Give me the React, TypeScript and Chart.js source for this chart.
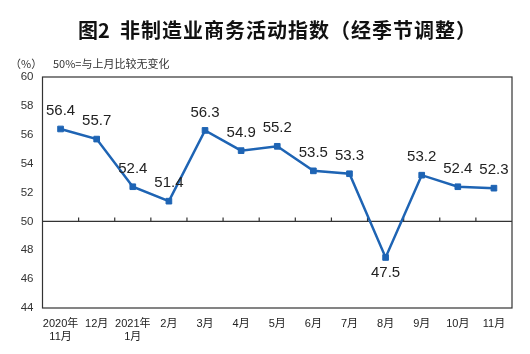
import React, { useEffect, useRef } from "react";
import { Chart, registerables } from "chart.js";

Chart.register(...registerables);

const TITLE_PREFIX = "图2";
const TITLE_MAIN = "非制造业商务活动指数（经季节调整）";
const UNIT_LABEL = "（%）";
const NOTE_LABEL = "50%=与上月比较无变化";
const categories: (string | string[])[] = [
  ["2020年", "11月"], "12月", ["2021年", "1月"], "2月", "3月", "4月", "5月",
  "6月", "7月", "8月", "9月", "10月", "11月",
];
const values = [56.4, 55.7, 52.4, 51.4, 56.3, 54.9, 55.2, 53.5, 53.3, 47.5, 53.2, 52.4, 52.3];
const Y_MIN = 44;
const Y_MAX = 60;
const Y_STEP = 2;
const BASELINE = 50;

const FONT = "Arial, 'Liberation Sans', 'Noto Sans CJK SC', sans-serif";
const CJK = "'Noto Sans CJK SC', 'Liberation Sans', sans-serif";
const BLUE = "#1E64B4";
const FRAME = "#333333";

const decorPlugin = {
  id: "decor",
  beforeDatasetsDraw(chart: any) {
    const { ctx, chartArea: a, scales } = chart;
    const y50 = scales.y.getPixelForValue(BASELINE);
    ctx.save();
    ctx.strokeStyle = FRAME;
    ctx.lineWidth = 1.2;
    ctx.strokeRect(a.left, a.top, a.right - a.left, a.bottom - a.top);
    ctx.beginPath();
    ctx.moveTo(a.left, y50);
    ctx.lineTo(a.right, y50);
    const n = categories.length;
    const w = (a.right - a.left) / n;
    for (let i = 1; i < n; i++) {
      const x = a.left + w * i;
      ctx.moveTo(x, y50);
      ctx.lineTo(x, y50 - 4);
    }
    ctx.stroke();
    ctx.restore();
  },
  afterDatasetsDraw(chart: any) {
    const { ctx } = chart;
    const meta = chart.getDatasetMeta(0);
    ctx.save();
    ctx.font = `15px ${FONT}`;
    ctx.fillStyle = "#222222";
    ctx.textAlign = "center";
    ctx.textBaseline = "middle";
    meta.data.forEach((pt: any, i: number) => {
      const v = values[i];
      const prev = i > 0 ? values[i - 1] : v;
      const next = i < values.length - 1 ? values[i + 1] : v;
      const below = v < prev && v < next && v < BASELINE;
      ctx.fillText(v.toFixed(1), pt.x, below ? pt.y + 15 : pt.y - 18);
    });
    ctx.restore();
  },
  afterDraw(chart: any) {
    const { ctx } = chart;
    ctx.save();
    ctx.fillStyle = "#111111";
    ctx.font = `bold 20px ${CJK}`;
    ctx.textAlign = "left";
    ctx.textBaseline = "middle";
    ctx.fillText(TITLE_PREFIX, 78, 30);
    (ctx as any).letterSpacing = "1px";
    ctx.fillText(TITLE_MAIN, 120, 30);
    (ctx as any).letterSpacing = "0px";
    ctx.font = `11px ${CJK}`;
    ctx.fillStyle = "#333333";
    ctx.fillText(UNIT_LABEL, 10, 64);
    ctx.fillText(NOTE_LABEL, 53, 64);
    ctx.restore();
  },
};

export default function App() {
  const ref = useRef<HTMLCanvasElement>(null);
  useEffect(() => {
    document.body.style.margin = "0";
    const chart = new Chart(ref.current!, {
      type: "line",
      data: {
        labels: categories,
        datasets: [
          {
            data: values,
            borderColor: BLUE,
            backgroundColor: BLUE,
            borderWidth: 2.5,
            pointStyle: "rect",
            pointRadius: 4,
            pointBorderWidth: 1,
            tension: 0,
          },
        ],
      },
      options: {
        responsive: false,
        animation: false,
        layout: { padding: { top: 77, right: 18, left: 0, bottom: 0 } },
        plugins: { legend: { display: false }, tooltip: { enabled: false }, title: { display: false } },
        scales: {
          x: {
            offset: true,
            grid: { display: false, drawTicks: false },
            border: { display: false },
            ticks: {
              color: "#222222",
              font: { family: FONT, size: 11 },
              padding: 9,
              maxRotation: 0,
              autoSkip: false,
            },
            afterFit(s: any) { s.height = 46; },
          },
          y: {
            min: Y_MIN,
            max: Y_MAX,
            grid: { display: false, drawTicks: false },
            border: { display: false },
            ticks: {
              stepSize: Y_STEP,
              color: "#333333",
              font: { family: FONT, size: 11.5 },
              padding: 9,
            },
            afterFit(s: any) { s.width = 42.5; },
          },
        },
      },
      plugins: [decorPlugin],
    });
    return () => chart.destroy();
  }, []);
  return (
    <div style={{ position: "fixed", left: 0, top: 0, width: 530, height: 354, background: "#fff" }}>
      <canvas ref={ref} width={530} height={354} />
    </div>
  );
}
